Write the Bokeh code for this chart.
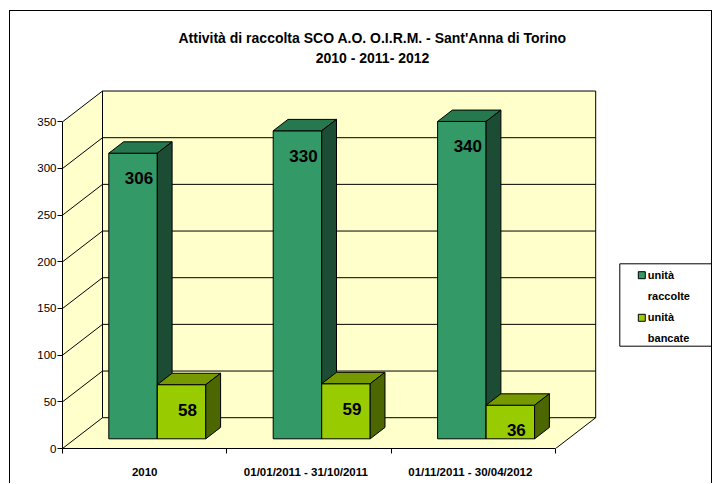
from bokeh.plotting import figure
from bokeh.models import Range1d, FixedTicker, LinearAxis, ColumnDataSource
from bokeh.core.properties import value
from bokeh.embed import file_html
from bokeh.resources import INLINE

# ---------------- data ----------------
title_lines = ["Attività di raccolta SCO A.O. O.I.R.M. - Sant'Anna di Torino",
               "2010 - 2011- 2012"]
categories = ["2010", "01/01/2011  -  31/10/2011", "01/11/2011  -  30/04/2012"]
series_names = ["unità\nraccolte", "unità\nbancate"]
unita_raccolte = [306, 330, 340]
unita_bancate = [58, 59, 36]
y_ticks = [0, 50, 100, 150, 200, 250, 300, 350]

# ---------------- layout / style ----------------
FONT_NAME = "Liberation Sans"
FONT = value(FONT_NAME)
CX0, CY0 = 10, 11          # page position of the canvas (after margin + border)
W, H = 703, 473
ML, MB = 52, 36
FW, FH = W - ML, H - MB
KX = 164.4                 # px per category
KY = 46.667 / 50           # px per value unit
PX0, PY0 = CX0 + ML, CY0 + FH   # page position of the data origin


def X(px):
    return (px - PX0) / KX


def Y(py):
    return (PY0 - py) / KY


DX = 40 / KX               # full depth offset (x)
DY = 30.8 / KY             # full depth offset (y)


def proj(x, v, d):
    return x + DX * d, v + DY * d


def poly(pts):
    return [q[0] for q in pts], [q[1] for q in pts]


p = figure(width=W, height=H,
           x_range=Range1d(0, FW / KX), y_range=Range1d(0, FH / KY),
           output_backend="svg", toolbar_location=None,
           x_axis_type=None, y_axis_type=None,
           min_border_left=ML, min_border_bottom=MB,
           min_border_top=0, min_border_right=0)
p.outline_line_color = None
p.background_fill_color = "white"
p.border_fill_color = "white"
p.styles = {"margin-left": "9px", "margin-top": "10px",
            "border-left": "1px solid #000000", "border-top": "1px solid #000000",
            "border-right": "1px solid #000000", "border-radius": "0px"}

n = len(categories)
vmax = y_ticks[-1]

# ---------------- walls and floor ----------------
back = poly([proj(0, 0, 1), proj(n, 0, 1), proj(n, vmax, 1), proj(0, vmax, 1)])
left = poly([proj(0, 0, 0), proj(0, 0, 1), proj(0, vmax, 1), proj(0, vmax, 0)])
floor = poly([proj(0, 0, 0), proj(n, 0, 0), proj(n, 0, 1), proj(0, 0, 1)])
p.patches([back[0], left[0], floor[0]], [back[1], left[1], floor[1]],
          fill_color="#ffffcc", line_color=None)

seg_x0, seg_y0, seg_x1, seg_y1 = [], [], [], []


def add_seg(a, b):
    seg_x0.append(a[0]); seg_y0.append(a[1])
    seg_x1.append(b[0]); seg_y1.append(b[1])


for t in y_ticks:
    add_seg(proj(0, t, 1), proj(n, t, 1))     # back wall gridline
    add_seg(proj(0, t, 0), proj(0, t, 1))     # left wall gridline
add_seg(proj(0, 0, 1), proj(0, vmax, 1))      # back-left edge
add_seg(proj(n, 0, 1), proj(n, vmax, 1))      # back-right edge
add_seg(proj(n, 0, 0), proj(n, 0, 1))         # floor right edge
p.segment(seg_x0, seg_y0, seg_x1, seg_y1, line_color="#000000", line_width=1)

# ---------------- 3D bars ----------------
OFF, BW = 0.205, 0.295
D0, D1 = 0.315, 0.685
face_colors = [("#339966", "#26784f", "#1d4c35"),
               ("#99cc00", "#779900", "#4c6600")]
bx, by, bc = [], [], []
lx, ly, lt = [], [], []
for i in range(n):
    for s, vals in enumerate([unita_raccolte, unita_bancate]):
        v = vals[i]
        x0 = i + OFF + s * BW
        x1 = x0 + BW
        front = poly([proj(x0, 0, D0), proj(x1, 0, D0), proj(x1, v, D0), proj(x0, v, D0)])
        top = poly([proj(x0, v, D0), proj(x1, v, D0), proj(x1, v, D1), proj(x0, v, D1)])
        side = poly([proj(x1, 0, D0), proj(x1, 0, D1), proj(x1, v, D1), proj(x1, v, D0)])
        for f, c in zip((front, top, side), face_colors[s]):
            bx.append(f[0]); by.append(f[1]); bc.append(c)
        lx.append((x0 + x1) / 2 + DX * D0 + 6 / KX)
        ly.append(v + DY * D0 - 25 / KY)
        lt.append(str(v))

p.patches(xs="xs", ys="ys", fill_color="color", line_color="#000000", line_width=1,
          source=ColumnDataSource(dict(xs=bx, ys=by, color=bc)))
p.text(lx, ly, text=lt, text_font=FONT, text_font_style="bold", text_font_size="17px",
       text_align="center", text_baseline="middle", text_color="#000000")

# ---------------- axes ----------------
yax = LinearAxis(ticker=FixedTicker(ticks=y_ticks), bounds=(0, vmax))
yax.axis_line_color = "#000000"
yax.major_tick_out = 5
yax.major_tick_in = 0
yax.minor_tick_line_color = None
yax.major_label_standoff = 1
yax.major_label_text_font = FONT_NAME
yax.major_label_text_font_size = "11.5px"
yax.major_label_text_color = "#000000"
p.add_layout(yax, "left")

centers = [i + 0.5 for i in range(n)]
xax = LinearAxis(ticker=FixedTicker(ticks=centers, minor_ticks=list(range(n + 1))),
                 bounds=(0, n))
xax.major_label_overrides = {c: lab for c, lab in zip(centers, categories)}
xax.axis_line_color = "#000000"
xax.major_tick_out = 0
xax.major_tick_in = 0
xax.minor_tick_out = 5
xax.minor_tick_in = 0
xax.major_label_standoff = 12
xax.major_label_text_font = FONT_NAME
xax.major_label_text_font_style = "bold"
xax.major_label_text_font_size = "11.5px"
xax.major_label_text_color = "#000000"
p.add_layout(xax, "below")

# ---------------- title ----------------
p.text([X(372), X(372)], [Y(37), Y(57)], text=title_lines, text_font=FONT,
       text_font_style="bold", text_font_size="14px", text_align="center",
       text_baseline="middle", text_color="#000000")

# ---------------- legend ----------------
p.quad(left=[X(619.3)], right=[X(714)], top=[Y(263.3)], bottom=[Y(345.7)],
       fill_color="#ffffff", line_color="#000000", line_width=1)
p.scatter([X(641.3), X(641.3)], [Y(274.7), Y(317.3)], marker="square", size=7,
          fill_color=[face_colors[0][0], face_colors[1][0]], line_color="#000000",
          line_width=1)
p.text([X(647.3), X(647.3)], [Y(284.7), Y(326.5)], text=series_names, text_font=FONT,
       text_font_style="bold", text_font_size="11px", text_align="left",
       text_baseline="middle", text_line_height=1.75, text_color="#000000")

open("out.html", "w").write(file_html(p, INLINE))
